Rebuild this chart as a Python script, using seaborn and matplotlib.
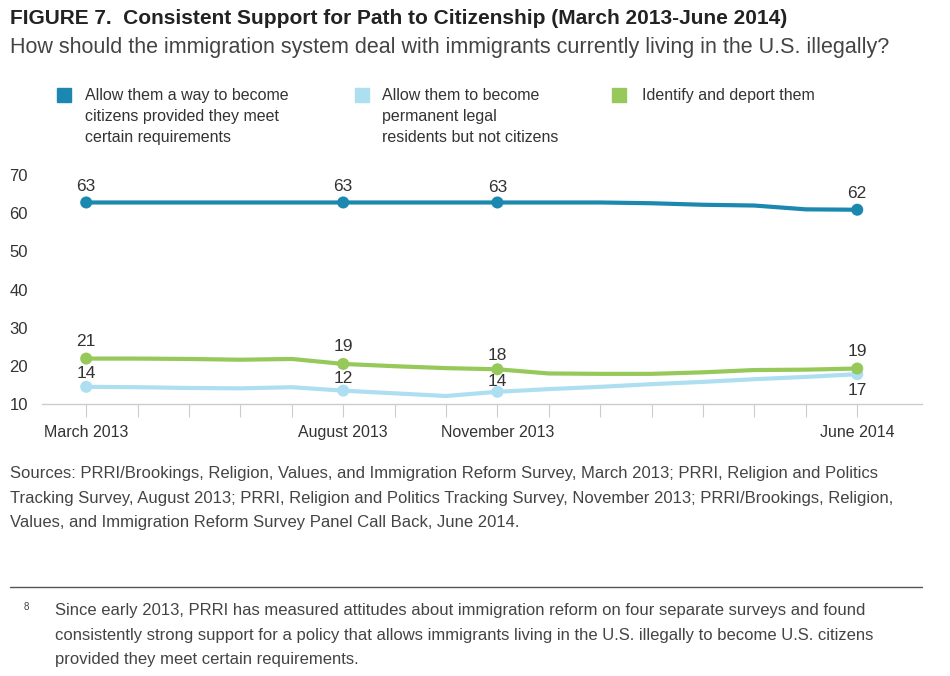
import pandas as pd
import seaborn as sns
import matplotlib.pyplot as plt
from matplotlib import font_manager
from matplotlib.patches import Rectangle

# monthly positions, March 2013 .. June 2014
months = ['Mar 2013', 'Apr 2013', 'May 2013', 'Jun 2013', 'Jul 2013', 'Aug 2013',
          'Sep 2013', 'Oct 2013', 'Nov 2013', 'Dec 2013', 'Jan 2014', 'Feb 2014',
          'Mar 2014', 'Apr 2014', 'May 2014', 'Jun 2014']
tick_labels = {0: 'March 2013', 5: 'August 2013', 8: 'November 2013', 15: 'June 2014'}
survey_idx = [0, 5, 8, 15]

citizens = [62.8, 62.8, 62.8, 62.8, 62.8, 62.8, 62.8, 62.8, 62.8, 62.8, 62.8, 62.6,
            62.2, 62.0, 61.0, 60.9]
residents = [14.5, 14.4, 14.2, 14.1, 14.4, 13.5, 12.8, 12.1, 13.2, 13.9, 14.5, 15.2,
             15.8, 16.5, 17.1, 17.8]
deport = [21.9, 21.9, 21.8, 21.6, 21.8, 20.5, 19.9, 19.4, 19.1, 18.0, 17.9, 17.9,
          18.3, 18.9, 19.0, 19.3]

citizens_lbl = [63, 63, 63, 62]
residents_lbl = [14, 12, 14, 17]
deport_lbl = [21, 19, 18, 19]

names = ['Allow them a way to become\ncitizens provided they meet\ncertain requirements',
         'Allow them to become\npermanent legal\nresidents but not citizens',
         'Identify and deport them']
colors = ['#1b88b0', '#addff0', '#96c85a']

rows = []
for name, vals in zip(names, [citizens, residents, deport]):
    for i, v in enumerate(vals):
        rows.append({'month': i, 'value': v, 'series': name})
df = pd.DataFrame(rows)

sns.set_style('white')
avail = {f.name for f in font_manager.fontManager.ttflist}
narrow = 'Liberation Sans Narrow' if 'Liberation Sans Narrow' in avail else 'Liberation Sans'
plt.rcParams['font.family'] = ['Liberation Sans', 'DejaVu Sans']
txt = '#333333'

fig = plt.figure(figsize=(9.5, 6.76), dpi=100)
ax = fig.add_axes([42 / 950, 1 - 404 / 676, 880 / 950, 229 / 676])

pal = dict(zip(names, colors))
sns.lineplot(data=df, x='month', y='value', hue='series', palette=pal,
             linewidth=3, legend=False, ax=ax)
sns.scatterplot(data=df[df['month'].isin(survey_idx)], x='month', y='value',
                hue='series', palette=pal, s=75, linewidth=0, legend=False,
                ax=ax, zorder=5)

# value labels, offset in pixels from the dot centre (negative = below)
px = 72 / 100
for vals, lbls, offs in [(citizens, citizens_lbl, [16, 16, 15, 16]),
                         (deport, deport_lbl, [17, 17, 14, 17]),
                         (residents, residents_lbl, [13, 12, 10, -16])]:
    for k, i in enumerate(survey_idx):
        ax.annotate(str(lbls[k]), (i, vals[i]), xytext=(0, offs[k] * px),
                    textcoords='offset points', ha='center', va='center',
                    fontsize=12.5, color=txt)

ax.set_xlim(-0.86, 16.26)
ax.set_ylim(10, 70)
ax.set_yticks(range(10, 71, 10))
ax.set_xticks(range(len(months)))
ax.set_xticklabels([tick_labels.get(i, '') for i in range(len(months))])
ax.tick_params(axis='x', length=9, width=0.8, color='#cccccc', labelsize=11.5,
               labelcolor=txt, pad=6, direction='out', bottom=True)
ax.tick_params(axis='y', length=0, labelsize=12, labelcolor=txt, pad=10)
ax.set_xlabel('')
ax.set_ylabel('')
for s in ['top', 'right', 'left']:
    ax.spines[s].set_visible(False)
ax.spines['bottom'].set_color('#cccccc')
ax.spines['bottom'].set_linewidth(1)

# titles
fig.text(10 / 950, 1 - 19 / 676, 'FIGURE 7.  Consistent Support for Path to Citizenship (March 2013-June 2014)',
         family=narrow, fontsize=15, fontweight='bold', color='#222222', va='center')
fig.text(10 / 950, 1 - 48 / 676, 'How should the immigration system deal with immigrants currently living in the U.S. illegally?',
         family=narrow, fontsize=15.5, color='#444444', va='center')

# legend
for name, col, sx, tx in zip(names, colors, [57, 355, 612], [85, 382, 642]):
    fig.patches.append(Rectangle((sx / 950, 1 - 102 / 676), 14 / 950, 14 / 676,
                                 transform=fig.transFigure, color=col))
    fig.text(tx / 950, 1 - 88 / 676, name, fontsize=11.5, color=txt, va='top',
             linespacing=1.5)

# sources
sources = ('Sources: PRRI/Brookings, Religion, Values, and Immigration Reform Survey, March 2013; PRRI, Religion and Politics\n'
           'Tracking Survey, August 2013; PRRI, Religion and Politics Tracking Survey, November 2013; PRRI/Brookings, Religion,\n'
           'Values, and Immigration Reform Survey Panel Call Back, June 2014.')
fig.text(10 / 950, 1 - 466 / 676, sources, family=narrow, fontsize=12, color='#444444',
         va='top', linespacing=1.8)

fig.add_artist(plt.Line2D([10 / 950, 922 / 950], [1 - 587 / 676] * 2,
                          transform=fig.transFigure, color='#555555', linewidth=1))
fig.text(24 / 950, 1 - 607 / 676, '8', family=narrow, fontsize=7, color='#444444', va='center')
note = ('Since early 2013, PRRI has measured attitudes about immigration reform on four separate surveys and found\n'
        'consistently strong support for a policy that allows immigrants living in the U.S. illegally to become U.S. citizens\n'
        'provided they meet certain requirements.')
fig.text(55 / 950, 1 - 603 / 676, note, family=narrow, fontsize=12, color='#444444',
         va='top', linespacing=1.8)

fig.savefig('out.png', dpi=100)
